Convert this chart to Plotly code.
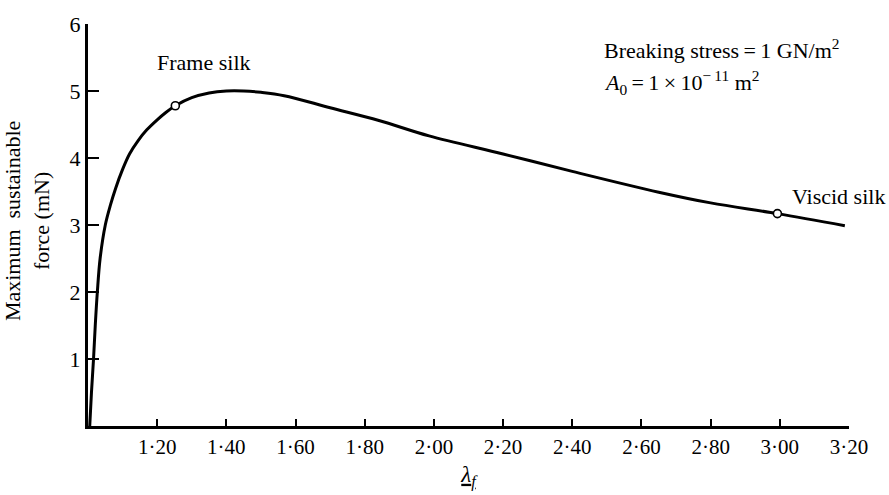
import plotly.graph_objects as go

# Extension ratio (lambda_f) and maximum sustainable force (mN) along the curve
stretch = [1.005, 1.010, 1.016, 1.021, 1.027, 1.035, 1.050, 1.065, 1.080, 1.100,
           1.120, 1.145, 1.170, 1.200, 1.225, 1.2525, 1.300, 1.350, 1.400, 1.450,
           1.500, 1.567, 1.700, 1.841, 1.986, 2.200, 2.400, 2.650, 2.800, 2.993,
           3.188]
force = [0.00, 0.50, 1.00, 1.50, 2.00, 2.50, 3.00, 3.30, 3.55, 3.83,
         4.06, 4.26, 4.42, 4.57, 4.68, 4.78, 4.90, 4.97, 5.00, 5.00,
         4.98, 4.93, 4.75, 4.56, 4.33, 4.06, 3.80, 3.49, 3.33, 3.17,
         2.99]

# Marked silk types
silk_names = ["Frame silk", "Viscid silk"]
silk_stretch = [1.2525, 2.993]
silk_force = [4.78, 3.17]

# Axis ticks
x_ticks = [1.20, 1.40, 1.60, 1.80, 2.00, 2.20, 2.40, 2.60, 2.80, 3.00, 3.20]
x_tick_text = ["1·20", "1·40", "1·60", "1·80", "2·00", "2·20", "2·40",
               "2·60", "2·80", "3·00", "3·20"]
y_ticks = [1, 2, 3, 4, 5, 6]

FONT = "Liberation Serif"

fig = go.Figure()
fig.add_trace(go.Scatter(
    x=stretch, y=force, mode="lines",
    line=dict(color="black", width=3, shape="spline", smoothing=1.0),
    hoverinfo="skip", showlegend=False,
))
fig.add_trace(go.Scatter(
    x=silk_stretch, y=silk_force, mode="markers",
    marker=dict(symbol="circle", size=8, color="white",
                line=dict(color="black", width=1.6)),
    text=silk_names, showlegend=False,
))

# Labels next to the silk markers
fig.add_annotation(x=1.336, y=5.42, text=silk_names[0], showarrow=False,
                   xanchor="center", yanchor="middle",
                   font=dict(family=FONT, size=22, color="black"))
fig.add_annotation(x=3.03, y=3.42, text=silk_names[1], showarrow=False,
                   xanchor="left", yanchor="middle",
                   font=dict(family=FONT, size=22, color="black"))

# Material constants
fig.add_annotation(x=2.485, y=5.62, text="Breaking stress\u2009=\u20091 GN/m<sup>2</sup>",
                   showarrow=False, xanchor="left", yanchor="middle",
                   font=dict(family=FONT, size=22, color="black"))
fig.add_annotation(x=2.485, y=5.13,
                   text="<i>A</i><sub>0</sub>\u2009=\u20091\u2009×\u200910<sup>\u2212\u200911</sup> m<sup>2</sup>",
                   showarrow=False, xanchor="left", yanchor="middle",
                   font=dict(family=FONT, size=22, color="black"))

# Y-axis title as a rotated two-line label
fig.add_annotation(xref="paper", yref="paper", x=-0.080, y=0.51,
                   text="Maximum  sustainable<br>force (mN)", textangle=-90,
                   showarrow=False, xanchor="center", yanchor="middle",
                   font=dict(family=FONT, size=22, color="black"))

fig.update_layout(
    width=889, height=495,
    margin=dict(l=88, r=40, t=16, b=62),
    paper_bgcolor="white", plot_bgcolor="white",
    font=dict(family=FONT, size=20, color="black"),
    showlegend=False,
)
fig.update_xaxes(
    range=[1.0, 3.2], tickmode="array", tickvals=x_ticks, ticktext=x_tick_text,
    ticks="inside", ticklen=7, tickwidth=2, tickcolor="black",
    showline=True, linecolor="black", linewidth=3, showgrid=False, zeroline=False,
    tickfont=dict(family=FONT, size=21, color="black"),
    title=dict(text="<u><i>λ<sub>f</sub></i></u>", standoff=8,
               font=dict(family=FONT, size=23, color="black")),
)
fig.update_yaxes(
    range=[0, 6], tickmode="array", tickvals=y_ticks,
    ticks="inside", ticklen=11, tickwidth=2, tickcolor="black",
    showline=True, linecolor="black", linewidth=3, showgrid=False, zeroline=False,
    tickfont=dict(family=FONT, size=22, color="black"),
)

fig.write_html("out.html")
